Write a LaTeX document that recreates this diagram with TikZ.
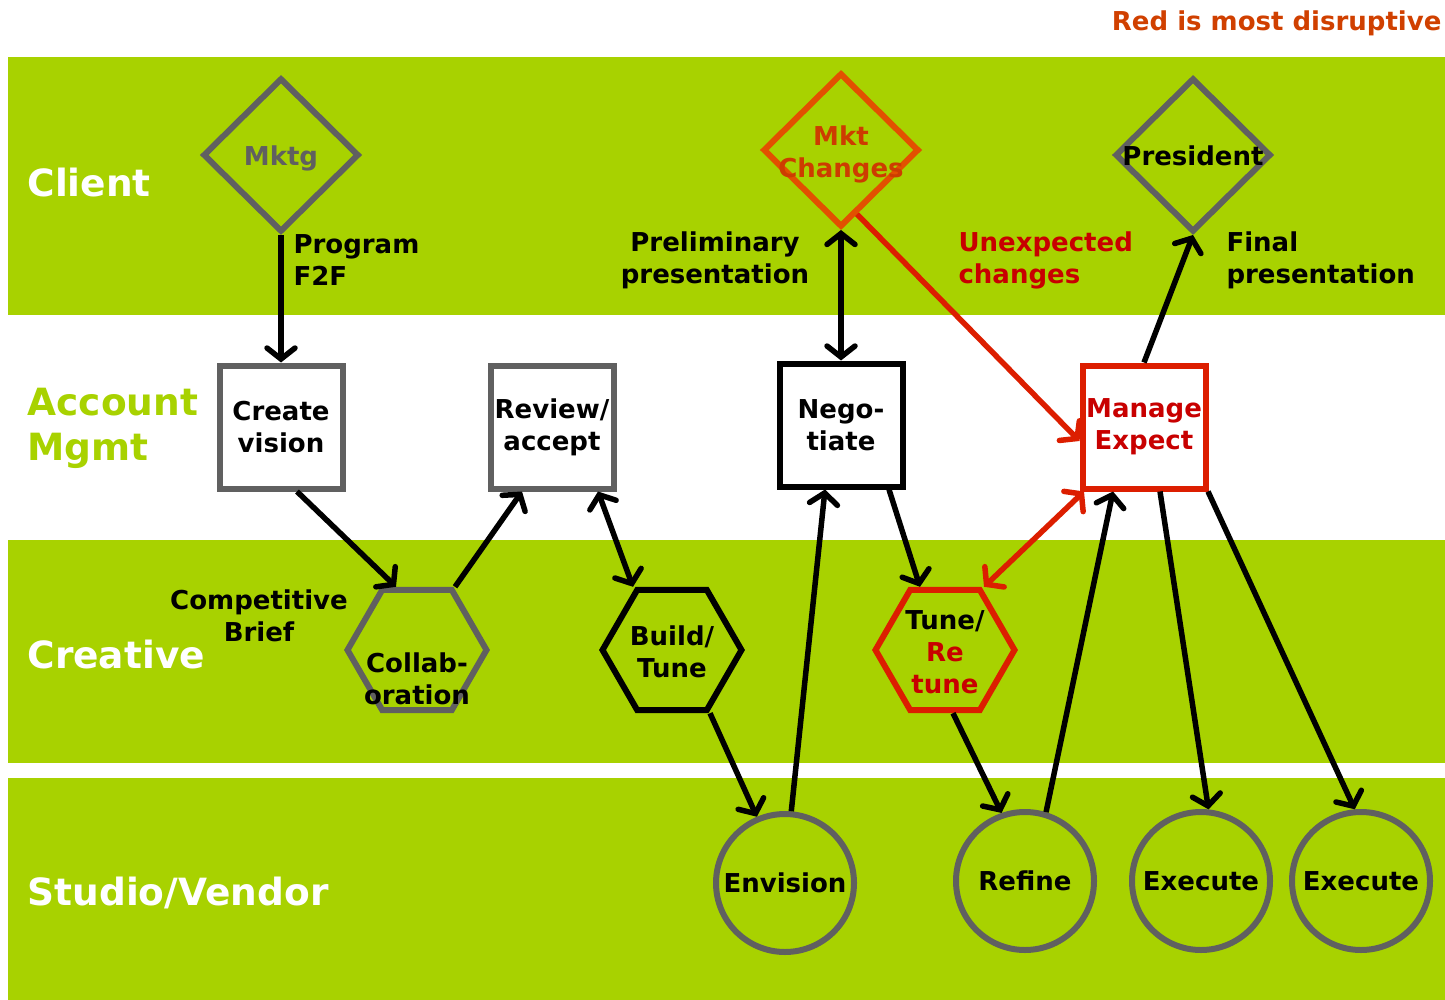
\documentclass[tikz,border=0pt]{standalone}
\usepackage{fontspec}
\setmainfont{DejaVu Sans}
\usetikzlibrary{
    shapes.geometric,
    arrows.meta
}
\definecolor{lime}{RGB}{168,210,0}
\definecolor{shapegray}{RGB}{96,96,96}
\definecolor{mktorange}{RGB}{226,80,0}
\definecolor{mkttext}{RGB}{205,60,0}
\definecolor{boxred}{RGB}{220,30,0}
\definecolor{textred}{RGB}{200,0,0}
\definecolor{notered}{RGB}{208,64,0}
\tikzset {
    band/.style = {fill = lime, draw = none},
    band label/.style = {anchor = west, align = left, text = white,
        font = \bfseries\fontsize{37.5}{45}\selectfont},
    note/.style = {align = center, font = \bfseries\fontsize{26}{32}\selectfont},
    diam/.style = {diamond, draw, line width = 6pt, inner sep = 0pt,
        minimum width = 156pt, minimum height = 154pt},
    box/.style = {rectangle, draw, line width = 6pt, fill = white,
        minimum size = 123pt, align = center,
        font = \bfseries\fontsize{26}{32}\selectfont},
    hexa/.style = {regular polygon, regular polygon sides = 6, draw,
        line width = 6pt, inner sep = 0pt, minimum size = 139pt},
    disc/.style = {circle, draw = shapegray, line width = 6pt,
        minimum size = 138pt, font = \bfseries\fontsize{26}{32}\selectfont},
    inside/.style = {align = center, font = \bfseries\fontsize{26}{32}\selectfont},
    arr/.style = {line width = 5.5pt,
        -{Straight Barb[length = 11pt, width = 28pt, line cap = round]}},
    darr/.style = {line width = 5.5pt,
        {Straight Barb[length = 11pt, width = 28pt, line cap = round]}-{Straight Barb[length = 11pt, width = 28pt, line cap = round]}}
}
\begin{document}
\begin{tikzpicture}[x = 1pt, y = -1pt]
    \useasboundingbox (0, 0) rectangle (1445, 1000);
    % bands
    \fill [band] (8, 57) rectangle (1445, 315);
    \fill [band] (8, 540) rectangle (1445, 763);
    \fill [band] (8, 778) rectangle (1445, 1000);
    \node [band label] (client) at (24, 183) {Client};
    \node [band label, text = lime] (account) at (24, 428) {Account\\Mgmt};
    \node [band label] (creative) at (24, 655) {Creative};
    \node [band label] (studio) at (24, 893) {Studio/Vendor};
    \node [note, text = notered, anchor = east] (legend) at (1445, 23) {Red is most disruptive};
    % client
    \node [diam, draw = shapegray,
        label = {[inside, text = shapegray, yshift = -3pt]center:Mktg}] (mktg) at (281, 155) {};
    \node [diam, draw = mktorange,
        label = {[inside, text = mkttext, yshift = -4pt]center:Mkt\\Changes}] (mktchg) at (841, 150) {};
    \node [diam, draw = shapegray,
        label = {[inside, yshift = -1pt]center:President}] (president) at (1193, 155) {};
    % account mgmt
    \node [box, draw = shapegray] (vision) at (281, 427) {Create\\vision};
    \node [box, draw = shapegray] (review) at (552, 427) {Review/\\accept};
    \node [box, draw = black] (nego) at (841, 425) {Nego-\\tiate};
    \node [box, draw = boxred, text = textred] (manage) at (1144, 427) {Manage\\Expect};
    % creative
    \node [hexa, draw = shapegray,
        label = {[inside, yshift = -29pt]center:Collab-\\oration}] (collab) at (417, 650) {};
    \node [hexa, draw = black,
        label = {[inside, yshift = -2pt]center:Build/\\Tune}] (build) at (672, 650) {};
    \node [hexa, draw = boxred,
        label = {[inside, yshift = -2pt]center:Tune/\\\textcolor{textred}{Re}\\\textcolor{textred}{tune}}] (tune) at (945, 650) {};
    % studio
    \node [disc] (envision) at (785, 883) {Envision};
    \node [disc] (refine) at (1025, 881) {Refine};
    \node [disc] (execA) at (1201, 881) {Execute};
    \node [disc] (execB) at (1361, 881) {Execute};
    % connectors
    \draw [arr] (mktg.south) -- (vision.north);
    \draw [arr] ([xshift = 16pt]vision.south) -- ([xshift = -21pt]collab.north);
    \draw [arr] ([xshift = 38pt]collab.north) -- ([xshift = -30pt]review.south);
    \draw [darr] ([xshift = 46pt]review.south) -- ([xshift = -39pt]build.north);
    \draw [arr] ([xshift = 38pt]build.south) -- (envision.113);
    \draw [arr] (envision.85) -- ([xshift = -16pt]nego.south);
    \draw [darr] (mktchg.south) -- (nego.north);
    \draw [arr, boxred] (mktchg.-76) -- ([yshift = -14pt]manage.west);
    \draw [arr] ([xshift = 48pt]nego.south) -- ([xshift = -25pt]tune.north);
    \draw [darr, boxred] ([xshift = -60pt]manage.south) -- ([xshift = 39pt]tune.north);
    \draw [arr] ([xshift = 8pt]tune.south) -- (refine.109);
    \draw [arr] (refine.73) -- ([xshift = -31pt]manage.south);
    \draw [arr] (manage.north) -- (president.south);
    \draw [arr] ([xshift = 16pt]manage.south) -- (execA.84);
    \draw [arr] ([xshift = 64pt]manage.south) -- (execB.95);
    % connector labels
    \node [note, anchor = west, align = left] (f2f) at (290, 260) {Program\\F2F};
    \node [note] (prelim) at (715, 260) {Preliminary\\presentation};
    \node [note, anchor = west, align = left, text = textred] (unexp) at (955, 260) {Unexpected\\changes};
    \node [note, anchor = west, align = left] (final) at (1223, 260) {Final\\presentation};
    \node [note] (brief) at (259, 616) {Competitive\\Brief};
\end{tikzpicture}
\end{document}
